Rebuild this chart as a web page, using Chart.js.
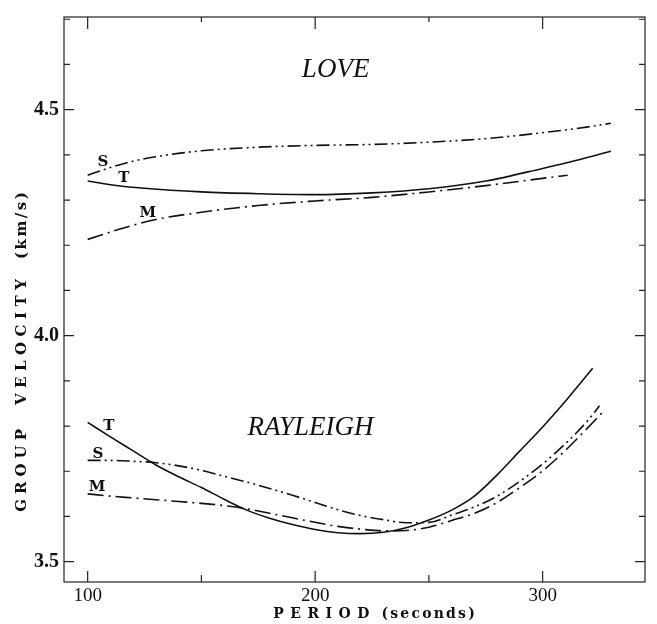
<!DOCTYPE html>
<html>
<head>
<meta charset="utf-8">
<script src="https://cdn.jsdelivr.net/npm/chart.js@4.4.0/dist/chart.umd.min.js"></script>
<style>
  html, body { margin: 0; padding: 0; background: #fff; }
  #wrap { width: 657px; height: 624px; position: relative; }
</style>
</head>
<body>
<div id="wrap"><canvas id="chart"></canvas></div>
<script>
// tick labels and tick marks
const xTicks = [100, 200, 300];
const yTicks = [3.5, 4.0, 4.5];
const xTickMarks = [100, 150, 200, 250, 300];
const yTickMarks = [3.5, 3.6, 3.7, 3.8, 3.9, 4.0, 4.1, 4.2, 4.3, 4.4, 4.5, 4.6, 4.7];

// LOVE waves (period s, group velocity km/s)
const loveSPeriod = [100, 110, 120, 130, 150, 175, 200, 225, 250, 275, 300, 320, 330];
const loveSVel    = [4.355, 4.372, 4.386, 4.396, 4.409, 4.417, 4.421, 4.423, 4.428, 4.436, 4.449, 4.462, 4.470];
const loveTPeriod = [100, 110, 125, 150, 175, 200, 225, 250, 275, 300, 315, 330];
const loveTVel    = [4.342, 4.334, 4.326, 4.318, 4.314, 4.312, 4.316, 4.325, 4.342, 4.370, 4.388, 4.408];
const loveMPeriod = [100, 115, 130, 150, 175, 200, 225, 250, 275, 300, 311];
const loveMVel    = [4.213, 4.237, 4.257, 4.273, 4.288, 4.298, 4.306, 4.318, 4.332, 4.348, 4.355];

// RAYLEIGH waves
const rayTPeriod = [100, 110, 120, 130, 140, 150, 160, 170, 180, 190, 200, 210, 220, 230, 240, 250, 260, 270, 280, 290, 300, 310, 322];
const rayTVel    = [3.808, 3.776, 3.745, 3.714, 3.688, 3.664, 3.638, 3.614, 3.596, 3.582, 3.571, 3.564, 3.562, 3.565, 3.575, 3.592, 3.614, 3.645, 3.692, 3.745, 3.798, 3.855, 3.928];
const raySPeriod = [100, 110, 120, 130, 140, 150, 160, 170, 180, 190, 200, 210, 220, 230, 240, 250, 260, 270, 280, 290, 300, 310, 320, 325];
const raySVel    = [3.724, 3.724, 3.722, 3.719, 3.712, 3.702, 3.689, 3.676, 3.662, 3.647, 3.631, 3.615, 3.602, 3.593, 3.586, 3.587, 3.603, 3.621, 3.645, 3.678, 3.716, 3.761, 3.813, 3.845];
const rayMPeriod = [100, 110, 120, 130, 140, 150, 160, 170, 180, 190, 200, 210, 220, 230, 240, 250, 260, 270, 280, 290, 300, 310, 320, 327];
const rayMVel    = [3.650, 3.645, 3.641, 3.637, 3.633, 3.629, 3.624, 3.617, 3.607, 3.597, 3.587, 3.578, 3.572, 3.568, 3.569, 3.576, 3.591, 3.607, 3.631, 3.664, 3.701, 3.746, 3.797, 3.834];

// text placed in data coordinates
const bigLabels = [
  { t: 'LOVE', p: 209, v: 4.588 },
  { t: 'RAYLEIGH', p: 198, v: 3.796 }
];
const curveLabels = [
  { t: 'S', p: 106.7, v: 4.384 },
  { t: 'T', p: 115.9, v: 4.349 },
  { t: 'M', p: 126.4, v: 4.272 },
  { t: 'T', p: 109.3, v: 3.800 },
  { t: 'S', p: 104.5, v: 3.739 },
  { t: 'M', p: 104.1, v: 3.664 }
];

const pts = (xs, ys) => xs.map((x, i) => ({ x: x, y: ys[i] }));

const DASH_S = [13, 4, 2, 4, 2, 4];   // dash-dot-dot
const DASH_M = [16, 5, 2, 5];         // dash-dot

function line(label, data, dash) {
  return {
    label: label,
    data: data,
    borderColor: '#111',
    borderWidth: 1.6,
    borderDash: dash,
    pointRadius: 0,
    fill: false,
    cubicInterpolationMode: 'monotone'
  };
}

// text with extra letter spacing
function spacedWidth(ctx, parts) {
  let w = 0;
  parts.forEach(p => {
    if (p.gap) { w += p.gap; return; }
    for (const ch of p.t) w += ctx.measureText(ch).width + p.ls;
    w -= p.ls;
  });
  return w;
}
function drawSpaced(ctx, parts, cx, cy) {
  let x = cx - spacedWidth(ctx, parts) / 2;
  ctx.textAlign = 'left';
  ctx.textBaseline = 'middle';
  parts.forEach(p => {
    if (p.gap) { x += p.gap; return; }
    for (const ch of p.t) {
      ctx.fillText(ch, x, cy);
      x += ctx.measureText(ch).width + p.ls;
    }
    x -= p.ls;
  });
}

const framePlugin = {
  id: 'frame',
  afterDraw(chart) {
    const { ctx, chartArea: a, scales: { x, y } } = chart;
    ctx.save();
    ctx.strokeStyle = '#222';
    ctx.lineWidth = 1.2;
    ctx.strokeRect(a.left, a.top, a.right - a.left, a.bottom - a.top);

    // inward ticks on all four sides
    ctx.beginPath();
    xTickMarks.forEach(v => {
      const px = x.getPixelForValue(v);
      const major = xTicks.includes(v);
      ctx.moveTo(px, a.bottom); ctx.lineTo(px, a.bottom - (major ? 11 : 7));
      ctx.moveTo(px, a.top); ctx.lineTo(px, a.top + (major ? 12 : 5));
    });
    yTickMarks.forEach(v => {
      const py = y.getPixelForValue(v);
      const major = yTicks.some(t => Math.abs(t - v) < 1e-6);
      ctx.moveTo(a.left, py); ctx.lineTo(a.left + (major ? 10 : 6), py);
      ctx.moveTo(a.right, py); ctx.lineTo(a.right - (major ? 10 : 6), py);
    });
    ctx.stroke();

    ctx.fillStyle = '#111';
    // axis titles
    ctx.font = 'bold 14px "DejaVu Serif"';
    drawSpaced(ctx, [
      { t: 'PERIOD', ls: 6.5 }, { gap: 12 }, { t: '(seconds)', ls: 2.2 }
    ], 374, 614);

    ctx.save();
    ctx.translate(22, 352);
    ctx.rotate(-Math.PI / 2);
    ctx.font = 'bold 15px "DejaVu Serif"';
    drawSpaced(ctx, [
      { t: 'GROUP', ls: 5 }, { gap: 24 }, { t: 'VELOCITY', ls: 5.5 }, { gap: 20 }, { t: '(km/s)', ls: 2.5 }
    ], 0, 0);
    ctx.restore();
    ctx.restore();
  },
  afterDatasetsDraw(chart) {
    const { ctx, scales: { x, y } } = chart;
    ctx.save();
    ctx.fillStyle = '#111';
    ctx.textAlign = 'center';
    ctx.textBaseline = 'middle';
    ctx.font = 'italic 27px "Liberation Serif"';
    bigLabels.forEach(l => ctx.fillText(l.t, x.getPixelForValue(l.p), y.getPixelForValue(l.v)));
    ctx.font = 'bold 15px "DejaVu Serif"';
    curveLabels.forEach(l => ctx.fillText(l.t, x.getPixelForValue(l.p), y.getPixelForValue(l.v)));
    ctx.restore();
  }
};

new Chart(document.getElementById('chart'), {
  type: 'line',
  data: {
    datasets: [
      line('Love S', pts(loveSPeriod, loveSVel), DASH_S),
      line('Love T', pts(loveTPeriod, loveTVel), []),
      line('Love M', pts(loveMPeriod, loveMVel), DASH_M),
      line('Rayleigh T', pts(rayTPeriod, rayTVel), []),
      line('Rayleigh S', pts(raySPeriod, raySVel), DASH_S),
      line('Rayleigh M', pts(rayMPeriod, rayMVel), DASH_M)
    ]
  },
  options: {
    responsive: true,
    maintainAspectRatio: false,
    animation: false,
    layout: { padding: { left: 0, right: 12, top: 12, bottom: 0 } },
    plugins: {
      legend: { display: false },
      tooltip: { enabled: false }
    },
    scales: {
      x: {
        type: 'linear',
        min: 89.6,
        max: 345,
        afterBuildTicks: s => { s.ticks = xTicks.map(v => ({ value: v })); },
        afterFit: s => { s.height = 42; },
        grid: { display: false, drawTicks: false },
        border: { display: false },
        ticks: {
          color: '#111',
          padding: 3,
          maxRotation: 0,
          font: { family: 'Liberation Serif', size: 19 },
          callback: v => String(v)
        }
      },
      y: {
        type: 'linear',
        min: 3.455,
        max: 4.705,
        afterBuildTicks: s => { s.ticks = yTicks.map(v => ({ value: v })); },
        afterFit: s => { s.width = 64; },
        grid: { display: false, drawTicks: false },
        border: { display: false },
        ticks: {
          color: '#111',
          padding: 5,
          font: { family: 'Liberation Serif', size: 20, weight: 'bold' },
          callback: v => v.toFixed(1)
        }
      }
    }
  },
  plugins: [framePlugin]
});
</script>
</body>
</html>
